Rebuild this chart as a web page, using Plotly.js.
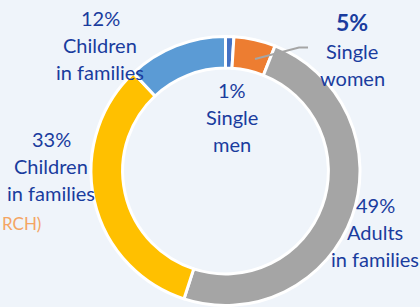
<!DOCTYPE html>
<html>
<head>
<meta charset="utf-8">
<script src="https://cdn.plot.ly/plotly-3.0.1.min.js"></script>
<style>html,body{margin:0;padding:0;background:#eff4fa;}#chart{width:420px;height:307px;}</style>
</head>
<body>
<div id="chart"></div>
<script>
// Data
const categories = ["Single men", "Single women", "Adults in families", "Children in families", "Children in families"];
const values = [1, 5, 49, 33, 12];
const labelLines = [["Single", "men"], ["Single", "women"], ["Adults", "in families"], ["Children", "in families"], ["Children", "in families"]];
const colors = ["#4472c4", "#ed7d31", "#a5a5a5", "#ffc000", "#5b9bd5"];

// Label placement (pixel centres of first line) - layout only
const W = 420, H = 307;
const labelPos = [[232, 90], [352, 22], [375, 205], [51, 139], [100, 18]];
const lineGap = 27;
const textColor = "#1a3c9e";

const annotations = [];
values.forEach((v, i) => {
  const [px, py] = labelPos[i];
  const lines = [v + "%"].concat(labelLines[i]);
  lines.forEach((t, j) => {
    const isBig = (i === 1 && j === 0);
    annotations.push({
      xref: "paper", yref: "paper",
      x: px / W, y: 1 - (py + j * lineGap + (i === 1 && j > 0 ? 2 : 0)) / H,
      xanchor: "center", yanchor: "middle",
      text: isBig ? "<b>" + t + "</b>" : t,
      showarrow: false,
      font: {family: "Lato, 'Open Sans', sans-serif", size: isBig ? 23 : 20, color: textColor}
    });
  });
});
annotations.push({
  xref: "paper", yref: "paper", x: 0, y: 1 - 223 / H,
  xanchor: "left", yanchor: "middle", text: "RCH)", showarrow: false,
  font: {family: "Lato, 'Open Sans', sans-serif", size: 17, color: "#f4a563"}
});

const trace = {
  type: "pie",
  values: values,
  labels: categories.map((c, i) => c + " " + i),
  sort: false,
  direction: "clockwise",
  rotation: 0,
  hole: 0.765,
  textinfo: "none",
  hoverinfo: "none",
  marker: {colors: colors, line: {color: "#ffffff", width: 3}},
  domain: {x: [91 / W, 360 / W], y: [1 - 305.5 / H, 1 - 36.5 / H]},
  showlegend: false
};

const layout = {
  width: W, height: H,
  margin: {l: 0, r: 0, t: 0, b: 0},
  paper_bgcolor: "#eff4fa",
  plot_bgcolor: "#eff4fa",
  showlegend: false,
  annotations: annotations,
  shapes: [{
    type: "path", xref: "paper", yref: "paper",
    path: "M " + (255 / W) + "," + (1 - 59 / H) + " L " + (299 / W) + "," + (1 - 47.5 / H) + " L " + (308 / W) + "," + (1 - 47.5 / H),
    line: {color: "#a5a5a5", width: 2}
  }]
};

Plotly.newPlot("chart", [trace], layout, {displayModeBar: false, staticPlot: true});
</script>
</body>
</html>
